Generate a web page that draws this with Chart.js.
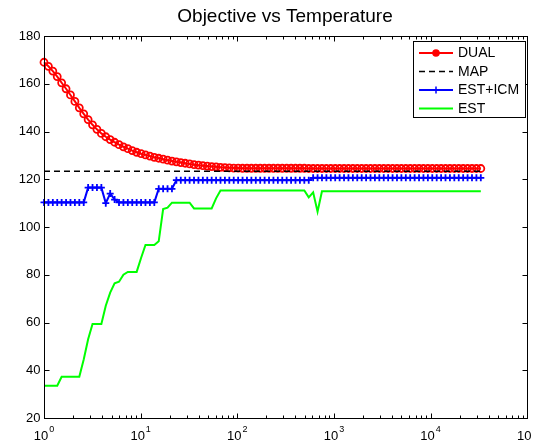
<!DOCTYPE html>
<html lang="en">

<head>
    <meta charset="UTF-8" />
    <title>Objective vs Temperature</title>
    <script src="https://cdn.jsdelivr.net/npm/chart.js"></script>
    <style>
        body { margin: 0; background: #fff; }
        #objChart { display: block; }
    </style>
</head>

<body>
    <canvas id="objChart" width="533" height="446"></canvas>

    <script>
        // ANNEALING SCHEDULE: 100 TEMPERATURES, LOG-SPACED FROM 10^0 TO 10^4.52
        const temperatures = [];
        for (let i = 0; i < 100; i++) temperatures.push(Math.pow(10, 4.52 * i / 99));

        const dualValues = [
            169.0, 167.3, 165.3, 163.0, 160.4, 157.9, 155.3, 152.6, 149.9, 147.4,
            145.0, 142.8, 140.9, 139.2, 137.8, 136.6, 135.5, 134.5, 133.6, 132.8,
            132.0, 131.3, 130.7, 130.2, 129.7, 129.2, 128.8, 128.4, 128.0, 127.6,
            127.3, 127.0, 126.7, 126.4, 126.1, 125.9, 125.7, 125.5, 125.3, 125.2,
            125.0, 124.9, 124.8, 124.7, 124.7, 124.6, 124.6, 124.6, 124.6, 124.6,
            124.6, 124.6, 124.6, 124.6, 124.6, 124.6, 124.6, 124.6, 124.6, 124.6,
            124.5, 124.5, 124.5, 124.5, 124.5, 124.5, 124.5, 124.5, 124.5, 124.5,
            124.5, 124.5, 124.5, 124.5, 124.5, 124.5, 124.5, 124.5, 124.5, 124.5,
            124.5, 124.5, 124.5, 124.5, 124.5, 124.5, 124.5, 124.5, 124.5, 124.5,
            124.5, 124.5, 124.5, 124.5, 124.5, 124.5, 124.5, 124.5, 124.5, 124.5
        ];

        const mapValue = 123.4;

        const estIcmValues = [
            110.3, 110.3, 110.3, 110.3, 110.3, 110.3, 110.3, 110.3, 110.3, 110.3,
            116.5, 116.5, 116.5, 116.5, 110.0, 114.0, 111.5, 110.3, 110.3, 110.3,
            110.3, 110.3, 110.3, 110.3, 110.3, 110.3, 116.0, 116.0, 116.0, 116.0,
            119.6, 119.6, 119.6, 119.6, 119.6, 119.6, 119.6, 119.6, 119.6, 119.6,
            119.6, 119.6, 119.6, 119.6, 119.6, 119.6, 119.6, 119.6, 119.6, 119.6,
            119.6, 119.6, 119.6, 119.6, 119.6, 119.6, 119.6, 119.6, 119.6, 119.6,
            119.6, 120.6, 120.6, 120.6, 120.6, 120.6, 120.6, 120.6, 120.6, 120.6,
            120.6, 120.6, 120.6, 120.6, 120.6, 120.6, 120.6, 120.6, 120.6, 120.6,
            120.6, 120.6, 120.6, 120.6, 120.6, 120.6, 120.6, 120.6, 120.6, 120.6,
            120.6, 120.6, 120.6, 120.6, 120.6, 120.6, 120.6, 120.6, 120.6, 120.6
        ];

        const estValues = [
            33.5, 33.5, 33.5, 33.5, 37.3, 37.3, 37.3, 37.3, 37.3, 44.5,
            53.0, 59.4, 59.4, 59.4, 67.0, 72.5, 76.4, 77.1, 80.0, 81.2,
            81.2, 81.2, 87.0, 92.5, 92.5, 92.5, 94.0, 107.5, 108.1, 110.2,
            110.2, 110.2, 110.2, 110.2, 107.8, 107.8, 107.8, 107.8, 107.8, 112.0,
            115.3, 115.3, 115.3, 115.3, 115.3, 115.3, 115.3, 115.3, 115.3, 115.3,
            115.3, 115.3, 115.3, 115.3, 115.3, 115.3, 115.3, 115.3, 115.3, 115.3,
            112.4, 114.5, 106.4, 115.0, 115.0, 115.0, 115.0, 115.0, 115.0, 115.0,
            115.0, 115.0, 115.0, 115.0, 115.0, 115.0, 115.0, 115.0, 115.0, 115.0,
            115.0, 115.0, 115.0, 115.0, 115.0, 115.0, 115.0, 115.0, 115.0, 115.0,
            115.0, 115.0, 115.0, 115.0, 115.0, 115.0, 115.0, 115.0, 115.0, 115.0
        ];

        const seriesLabels = ["DUAL", "MAP", "EST+ICM", "EST"];
        const yTicks = [20, 40, 60, 80, 100, 120, 140, 160, 180];
        const xDecades = [0, 1, 2, 3, 4, 5];
        const chartTitle = "Objective vs Temperature";

        const FONT = '"Liberation Sans", Arial, Helvetica, sans-serif';

        function toPoints(values) {
            return values.map((v, i) => ({ x: temperatures[i], y: v }));
        }

        // FRAME, INWARD TICKS, TICK LABELS, TITLE AND LEGEND
        const axesBox = {
            id: 'axesBox',
            afterDraw(chart) {
                const ctx = chart.ctx;
                const area = chart.chartArea;
                const xs = chart.scales.x;
                const ys = chart.scales.y;
                const L = Math.round(area.left) + 0.5;
                const R = Math.round(area.right) + 0.5;
                const T = Math.round(area.top) + 0.5;
                const B = Math.round(area.bottom) + 0.5;

                ctx.save();
                ctx.strokeStyle = '#000';
                ctx.lineWidth = 1;
                ctx.setLineDash([]);
                ctx.strokeRect(L, T, R - L, B - T);

                // x ticks, major at decades and minor at 2..9
                ctx.beginPath();
                xDecades.forEach(d => {
                    for (let m = 1; m <= 9; m++) {
                        const v = m * Math.pow(10, d);
                        if (v > xs.max) break;
                        const px = Math.round(xs.getPixelForValue(v)) + 0.5;
                        const len = m === 1 ? 5 : 3;
                        ctx.moveTo(px, B); ctx.lineTo(px, B - len);
                        ctx.moveTo(px, T); ctx.lineTo(px, T + len);
                    }
                });
                // y ticks
                yTicks.forEach(v => {
                    const py = Math.round(ys.getPixelForValue(v)) + 0.5;
                    ctx.moveTo(L, py); ctx.lineTo(L + 5, py);
                    ctx.moveTo(R, py); ctx.lineTo(R - 5, py);
                });
                ctx.stroke();

                ctx.fillStyle = '#000';
                ctx.font = '13px ' + FONT;
                ctx.textAlign = 'right';
                ctx.textBaseline = 'middle';
                yTicks.forEach(v => {
                    ctx.fillText(String(v), L - 4, ys.getPixelForValue(v));
                });

                // x labels as 10 with a raised exponent
                ctx.textBaseline = 'alphabetic';
                ctx.textAlign = 'left';
                xDecades.forEach(d => {
                    const px = xs.getPixelForValue(Math.pow(10, d));
                    ctx.font = '13px ' + FONT;
                    const wBase = ctx.measureText('10').width;
                    ctx.font = '9px ' + FONT;
                    const wExp = ctx.measureText(String(d)).width;
                    const x0 = px - (wBase + wExp + 1) / 2;
                    ctx.font = '13px ' + FONT;
                    ctx.fillText('10', x0, 440);
                    ctx.font = '9px ' + FONT;
                    ctx.fillText(String(d), x0 + wBase + 1, 432);
                });

                ctx.font = '19px ' + FONT;
                ctx.textAlign = 'center';
                ctx.fillText(chartTitle, 285, 22);

                // legend box
                const box = { x: 413.5, y: 41.5, w: 112, h: 76 };
                ctx.fillStyle = '#fff';
                ctx.fillRect(box.x, box.y, box.w, box.h);
                ctx.strokeStyle = '#000';
                ctx.strokeRect(box.x, box.y, box.w, box.h);

                const rows = [53, 71.5, 90, 108.5];
                chart.data.datasets.forEach((ds, i) => {
                    const y = rows[i];
                    ctx.strokeStyle = ds.borderColor;
                    ctx.lineWidth = ds.borderWidth;
                    ctx.setLineDash(ds.borderDash || []);
                    ctx.beginPath();
                    ctx.moveTo(419, y); ctx.lineTo(453, y);
                    ctx.stroke();
                    ctx.setLineDash([]);
                    ctx.lineWidth = 1.5;
                    if (ds.pointStyle === 'circle' && ds.pointRadius > 0) {
                        ctx.beginPath();
                        ctx.arc(436, y, 3, 0, Math.PI * 2);
                        ctx.fillStyle = ds.borderColor;
                        ctx.fill();
                        ctx.stroke();
                    } else if (ds.pointStyle === 'cross' && ds.pointRadius > 0) {
                        ctx.beginPath();
                        ctx.moveTo(432.5, y); ctx.lineTo(439.5, y);
                        ctx.moveTo(436, y - 3.5); ctx.lineTo(436, y + 3.5);
                        ctx.stroke();
                    }
                    ctx.fillStyle = '#000';
                    ctx.font = '14px ' + FONT;
                    ctx.textAlign = 'left';
                    ctx.textBaseline = 'middle';
                    ctx.fillText(ds.label, 458, y + 0.5);
                });
                ctx.restore();
            }
        };

        function drawChart() {
            new Chart(document.getElementById("objChart"), {
                type: "line",
                data: {
                    datasets: [{
                        label: seriesLabels[0],
                        data: toPoints(dualValues),
                        borderColor: "#ff0000",
                        borderWidth: 2,
                        pointStyle: "circle",
                        pointRadius: 3.5,
                        pointBorderWidth: 1.8,
                        pointBorderColor: "#ff0000",
                        pointBackgroundColor: "rgba(0,0,0,0)",
                        clip: false,
                        order: 4
                    }, {
                        label: seriesLabels[1],
                        data: [{ x: temperatures[0], y: mapValue }, { x: temperatures[temperatures.length - 1], y: mapValue }],
                        borderColor: "#000000",
                        borderWidth: 1.5,
                        borderDash: [6, 4],
                        pointRadius: 0,
                        clip: false,
                        order: 3
                    }, {
                        label: seriesLabels[2],
                        data: toPoints(estIcmValues),
                        borderColor: "#0000ff",
                        borderWidth: 2,
                        pointStyle: "cross",
                        pointRadius: 3.5,
                        pointBorderWidth: 1.8,
                        pointBorderColor: "#0000ff",
                        clip: false,
                        order: 2
                    }, {
                        label: seriesLabels[3],
                        data: toPoints(estValues),
                        borderColor: "#00ff00",
                        borderWidth: 2,
                        pointRadius: 0,
                        clip: false,
                        order: 1
                    }]
                },
                options: {
                    responsive: false,
                    animation: false,
                    devicePixelRatio: 1,
                    layout: {
                        padding: { left: 44, top: 36, right: 5, bottom: 28 }
                    },
                    elements: { line: { tension: 0 } },
                    scales: {
                        x: { type: "logarithmic", min: 1, max: 100000, display: false },
                        y: { type: "linear", min: 20, max: 180, display: false }
                    },
                    plugins: {
                        legend: { display: false },
                        title: { display: false },
                        tooltip: { enabled: false }
                    }
                },
                plugins: [axesBox]
            });
        }

        window.onload = function () {
            drawChart();
        };
    </script>
</body>
</html>
